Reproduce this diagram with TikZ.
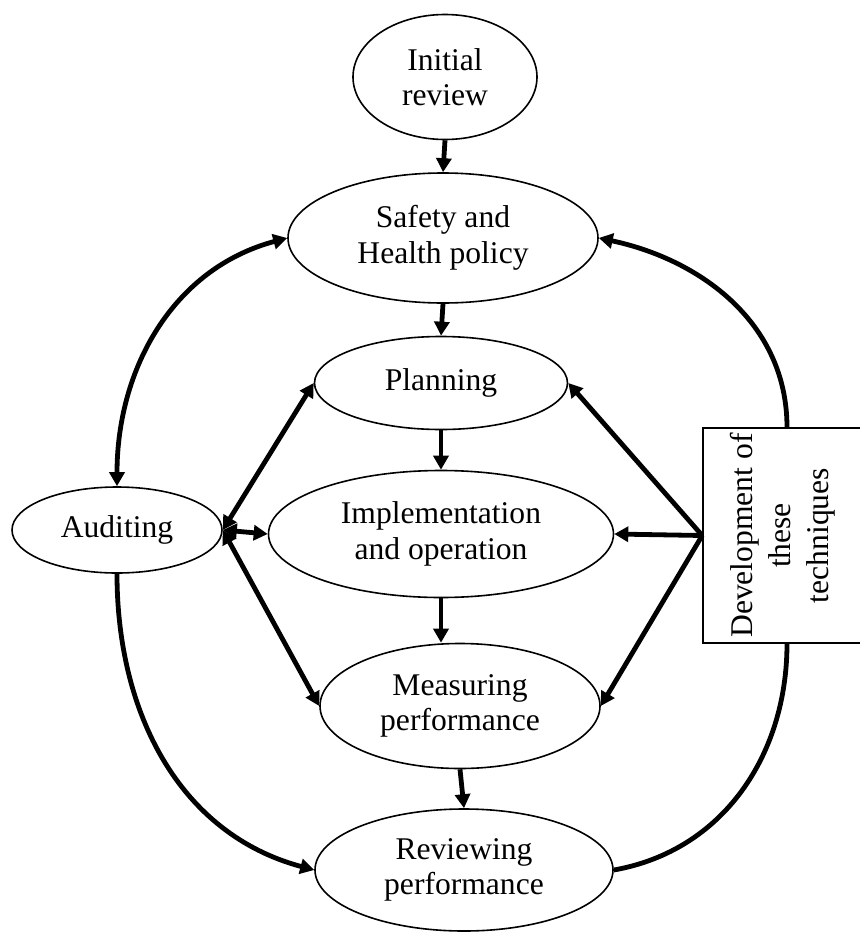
\documentclass[tikz,border=0pt]{standalone}
\usepackage{fontspec}
\setmainfont{Liberation Serif}
\usetikzlibrary{arrows.meta,shapes.geometric}
\begin{document}
\begin{tikzpicture}[x=0.5pt,y=0.5pt,
  oval/.style={draw, ellipse, line width=0.8pt, inner sep=0pt, align=center,
    font=\fontsize{15.8}{17.8}\selectfont},
  flow/.style={line width=2.4pt, -{Triangle[length=7pt,width=7.5pt]}},
  bi/.style={line width=2.4pt, {Triangle[length=7pt,width=7.5pt]}-{Triangle[length=7pt,width=7.5pt]}},
  plainline/.style={line width=2.4pt}]
\useasboundingbox (0,0) rectangle (860,-932);

\node[oval, minimum width=92pt,  minimum height=62.5pt] (init) at (445,-77) {Initial\\review};
\node[oval, minimum width=155pt, minimum height=65pt]   (saf)  at (443,-238) {Safety and\\Health policy};
\node[oval, minimum width=126.5pt, minimum height=46.5pt] (plan) at (441,-383) {Planning};
\node[oval, minimum width=172.5pt, minimum height=63.5pt] (impl) at (441,-534) {Implementation\\and operation};
\node[oval, minimum width=140pt, minimum height=62.5pt] (meas) at (460,-706) {Measuring\\performance};
\node[oval, minimum width=149pt, minimum height=61pt]   (rev)  at (464,-870) {Reviewing\\performance};
\node[oval, minimum width=105pt, minimum height=43pt]   (aud)  at (117,-530) {Auditing};
\node[draw, rotate=90, line width=0.8pt, minimum width=107.5pt, minimum height=79.5pt,
      inner sep=0pt, align=center, font=\fontsize{15.8}{19}\selectfont]
      (box) at (782.5,-535.5) {Development of\\these\\techniques};

% vertical flow
\draw[flow] (init.south) -- (saf.north);
\draw[flow] (saf.south) -- (plan.north);
\draw[flow] (plan.south) -- (impl.north);
\draw[flow] (impl.south) -- (impl.south |- meas.north);
\draw[flow] (meas.south) -- (rev.north);

% auditing links
\draw[bi] (aud.north) to[out=90,in=195] (saf.west);
\draw[flow] (aud.south) to[out=-90,in=165] (rev.west);
\draw[bi] (aud.east) -- (plan.west);
\draw[bi] (aud.east) -- (impl.west);
\draw[bi] (aud.east) -- (meas.west);

% development box links
\draw[flow] ([xshift=2.25pt]box.east) to[out=90,in=-12] (saf.east);
\draw[plainline] (rev.east) to[out=10,in=-90] ([xshift=2.25pt]box.west);
\draw[flow] (box.north) -- (plan.east);
\draw[flow] (box.north) -- (impl.east);
\draw[flow] (box.north) -- (meas.east);
\end{tikzpicture}
\end{document}
